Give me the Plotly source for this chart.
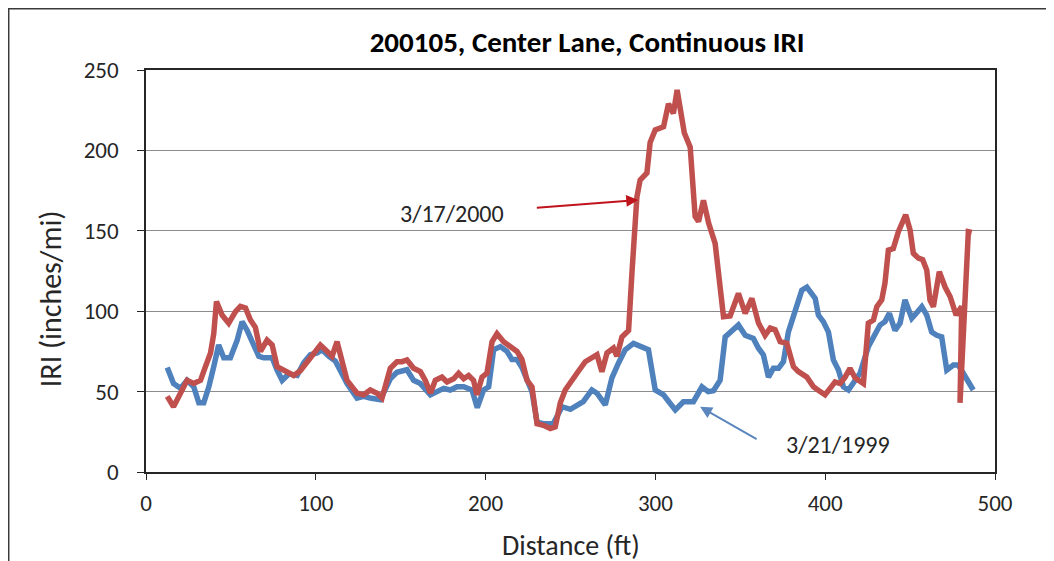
import plotly.graph_objects as go

# 3/21/1999 run (blue)
dist_1999 = [12.5, 16.2, 20.3, 24.2, 28.1, 31.1, 34.0, 37.0, 39.9, 42.8, 45.8, 49.7, 53.7, 56.6, 59.6,
             62.5, 66.4, 69.3, 74.3, 77.2, 80.2, 84.1, 89.0, 92.9, 96.8, 100.8, 103.7, 107.6, 111.5,
             114.5, 118.4, 124.3, 128.2, 132.0, 138.0, 143.9, 147.8, 153.7, 157.6, 161.6, 167.5,
             171.4, 175.3, 179.2, 183.2, 187.1, 192.0, 195.1, 198.8, 201.8, 204.7, 208.7, 212.6,
             215.5, 218.5, 221.4, 224.4, 227.3, 230.3, 234.0, 239.8, 245.0, 249.9, 257.5, 262.6,
             265.6, 270.5, 274.4, 278.3, 282.2, 287.1, 292.0, 295.9, 299.9, 304.8, 307.7, 311.7,
             316.5, 322.4, 327.4, 331.1, 334.2, 338.1, 341.1, 345.0, 348.9, 352.9, 357.7, 360.7,
             363.6, 366.6, 369.5, 372.5, 375.4, 378.3, 381.3, 384.2, 386.2, 389.2, 392.1, 394.1,
             396.0, 398.9, 401.9, 404.8, 407.8, 410.7, 413.7, 417.6, 420.5, 425.4, 428.4, 432.3,
             435.2, 437.8, 441.1, 444.1, 447.0, 449.0, 451.0, 453.9, 456.9, 459.8, 462.7, 465.7,
             468.6, 471.6, 475.5, 478.4, 481.3, 484.3, 487.2]
iri_1999 = [65, 55, 52, 57, 53, 43, 43, 53, 65.5, 79, 71, 71, 82, 93.5, 88,
            81, 72, 71, 71, 63.4, 57, 61, 60, 68, 73, 74, 76, 72, 69,
            63, 55, 46, 47, 46, 45, 58, 62, 63.6, 57, 55, 48,
            50, 52, 51, 53, 53, 51, 40, 51, 53, 76, 78, 75,
            70, 70, 65, 57, 50, 31, 30, 30, 40.6, 39, 43.7, 51,
            49, 41.7, 58.5, 67.8, 76, 80, 78, 76, 51, 48, 44, 38.6,
            43.7, 43.7, 53, 50, 50.5, 57, 84, 88, 91.4, 85, 83, 77,
            72.8, 59, 64.5, 64.5, 68.6, 87, 97.6, 107, 113, 115, 111, 108,
            97.6, 93.5, 87, 69.7, 63.4, 53, 51, 57, 61.4, 78, 84, 91.4,
            93.5, 98.7, 88, 92.6, 107, 100.7, 95.6, 99, 102.8, 97.6, 87, 85,
            84, 63.4, 66.5, 66.5, 61.4, 55, 51]

# 3/17/2000 run (red)
dist_2000 = [12.5, 16.2, 20.3, 24.2, 28.1, 32.1, 35.0, 38.0, 39.9, 41.5, 44.8, 48.7, 52.7, 55.6, 58.6,
             61.5, 64.4, 67.4, 71.3, 74.3, 77.2, 81.1, 87.0, 90.9, 94.9, 98.8, 102.7, 106.7, 109.6,
             112.5, 115.5, 118.4, 124.3, 128.2, 132.1, 136.1, 139.0, 143.9, 147.8, 150.8, 153.7,
             157.6, 161.6, 164.5, 167.5, 170.4, 174.3, 177.3, 181.2, 184.1, 187.1, 190.0, 192.9,
             194.9, 197.9, 200.8, 203.8, 206.7, 210.6, 214.5, 218.5, 221.4, 224.4, 227.3, 230.3,
             234.1, 238.1, 241.0, 244.0, 246.9, 249.9, 253.8, 258.7, 262.6, 265.6, 268.5, 271.5,
             275.3, 277.3, 280.3, 284.2, 286.2, 289.1, 291.0, 295.0, 296.9, 299.9, 304.8, 307.7,
             310.6, 312.8, 317.0, 320.5, 323.4, 325.4, 328.3, 331.3, 335.2, 340.1, 344.0, 348.9,
             352.9, 356.8, 360.7, 364.6, 367.6, 370.5, 373.5, 377.4, 381.3, 384.2, 389.2, 393.1,
             397.0, 399.9, 402.9, 405.8, 408.8, 411.7, 414.6, 417.6, 422.5, 425.4, 428.4, 430.4,
             433.3, 435.2, 437.2, 440.1, 443.1, 445.1, 447.4, 450.0, 451.9, 454.9, 457.4, 459.8,
             461.7, 463.7, 467.2, 470.6, 473.6, 477.1, 480.4, 479.4, 484.3, 486.3]
iri_2000 = [47, 40.6, 49, 57, 55, 57, 65.5, 74, 86, 106, 97.6, 92.5, 99.7, 103, 102,
            94.5, 90, 75, 82, 79, 65.5, 63, 60, 63, 68, 73, 79, 75, 72,
            81, 68, 57, 49, 48, 51, 49, 46, 64.5, 68.6, 68.6, 69.7,
            64.5, 62.4, 57, 49, 57, 59, 56, 58, 61.4, 58, 60, 57,
            48, 59, 61.4, 81, 86, 81, 78, 75, 70, 57, 53, 30,
            29, 27, 28, 43, 51, 56, 61.4, 68.6, 71, 73, 62.4, 74,
            77, 72, 84, 88, 124, 171, 181.6, 186, 205, 212.7, 214.7, 229,
            223, 237.6, 211, 202, 159, 155.7, 169, 155, 142, 96.6, 97, 111,
            98.7, 108, 92.6, 85, 89.5, 88.5, 81, 80, 65.5, 62.4, 59, 53,
            50, 48, 52, 56, 55, 59, 64.5, 58.5, 55, 92.6, 94.5, 102.8,
            107, 117.5, 138, 139, 149.5, 155, 160, 150.5, 136, 133, 132, 125.6,
            107, 102.8, 124.6, 115, 109, 97.6, 103, 43, 149.5, 149]

font_family = "Calibri, Carlito, Lato, sans-serif"
text_color = "#262626"

fig = go.Figure()

fig.add_trace(go.Scatter(x=dist_1999, y=iri_1999, mode="lines", name="3/21/1999",
                         line=dict(color="#4F81BD", width=5.5)))
fig.add_trace(go.Scatter(x=dist_2000, y=iri_2000, mode="lines", name="3/17/2000",
                         line=dict(color="#C0504D", width=5.5)))

# labels and arrows
fig.add_annotation(x=180.4, y=161, text="3/17/2000", showarrow=False,
                   font=dict(size=24, color=text_color))
fig.add_annotation(x=289.9, y=169.2, ax=229.3, ay=164.2, axref="x", ayref="y", text="",
                   showarrow=True, arrowhead=2, arrowsize=1.2, arrowwidth=2, arrowcolor="#C0141C")
fig.add_annotation(x=407.6, y=16.8, text="3/21/1999", showarrow=False,
                   font=dict(size=24, color=text_color))
fig.add_annotation(x=326.3, y=40.6, ax=360.5, ay=19.9, axref="x", ayref="y", text="",
                   showarrow=True, arrowhead=2, arrowsize=1.2, arrowwidth=2, arrowcolor="#5B87BE")

# axis titles
fig.add_annotation(xref="paper", yref="paper", x=0.5, y=-0.1816, yanchor="middle",
                   text="Distance (ft)", showarrow=False, font=dict(size=28, color=text_color))
fig.add_annotation(xref="paper", yref="paper", x=-0.113, y=0.43, xanchor="center", yanchor="middle",
                   text="IRI (inches/mi)", textangle=-90, showarrow=False,
                   font=dict(size=30, color=text_color))

# outer chart frame
fig.add_shape(type="rect", xref="paper", yref="paper", x0=-0.1617, x1=1.0648, y0=-0.3, y1=1.1524,
              line=dict(color="#3a3a3a", width=1.5))

fig.update_layout(
    width=1054, height=561,
    margin=dict(l=138, r=67, t=62, b=97),
    paper_bgcolor="white", plot_bgcolor="white",
    showlegend=False,
    font=dict(family=font_family, color=text_color),
    title=dict(text="200105, Center Lane, Continuous IRI", x=0.5494, xanchor="center",
               y=0.9394, yanchor="middle", font=dict(size=29, color="black", weight="bold")),
)
fig.update_xaxes(range=[0, 500], dtick=100, showgrid=False, zeroline=False,
                 showline=True, mirror=True, linecolor="#262626", linewidth=1.5,
                 ticks="outside", ticklen=6, tickcolor="#262626", tickfont=dict(size=23),
                 ticklabelstandoff=4)
fig.update_yaxes(range=[0, 250], dtick=50, showgrid=True, gridcolor="#8c8c8c", gridwidth=1,
                 zeroline=False, showline=True, mirror=True, linecolor="#262626", linewidth=1.5,
                 ticks="outside", ticklen=7, tickcolor="#262626", tickfont=dict(size=23),
                 ticklabelstandoff=14)

fig.write_html("out.html")
